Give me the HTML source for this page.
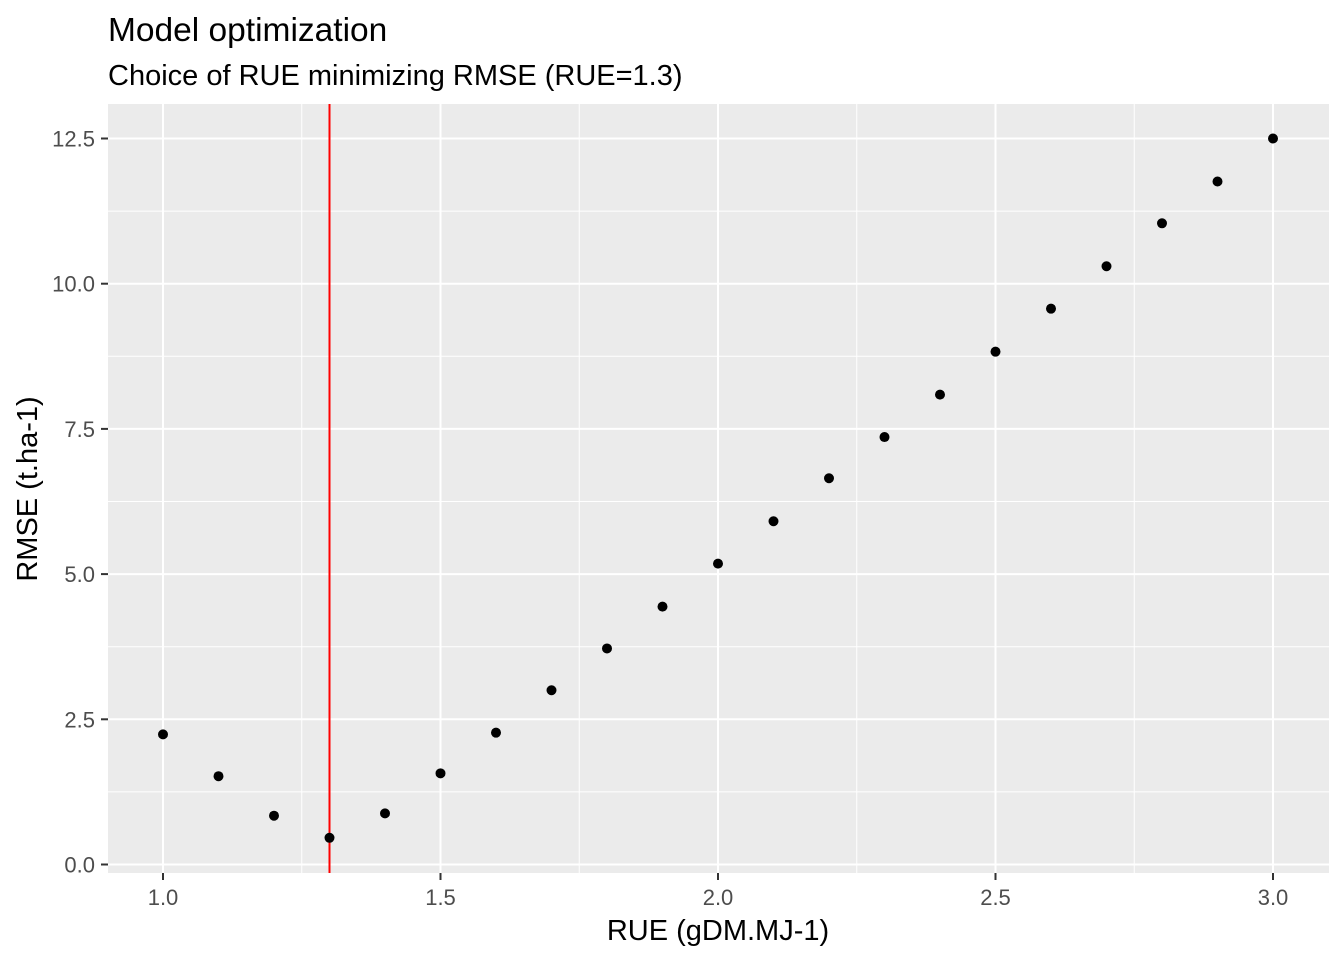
<!DOCTYPE html>
<html><head><meta charset="utf-8"><style>
body{margin:0;background:#fff;}
svg{display:block;font-family:"Liberation Sans",Arial,sans-serif;}
</style></head><body>
<svg id="chart" width="1344" height="960">
<text x="108" y="41" fill="#000" style="font-size:33.5px">Model optimization</text>
<text x="108" y="85" fill="#000" style="font-size:29px">Choice of RUE minimizing RMSE (RUE=1.3)</text>
<rect x="108" y="104" width="1221" height="769" fill="#ebebeb"/>
<g id="grid"></g>
<g id="axes"></g>
<g id="marks"></g>
<text x="718" y="940" text-anchor="middle" fill="#000" style="font-size:29px">RUE (gDM.MJ-1)</text>
<text transform="translate(37,489) rotate(-90)" text-anchor="middle" fill="#000" style="font-size:29px">RMSE (t.ha-1)</text>
</svg>
<script>
const rue = [1.0,1.1,1.2,1.3,1.4,1.5,1.6,1.7,1.8,1.9,2.0,2.1,2.2,2.3,2.4,2.5,2.6,2.7,2.8,2.9,3.0];
const rmse = [2.24,1.52,0.84,0.46,0.88,1.57,2.27,3.00,3.72,4.44,5.18,5.91,6.65,7.36,8.09,8.83,9.57,10.30,11.04,11.76,12.50];
const xTicks = [1.0,1.5,2.0,2.5,3.0];
const xTickLabels = ["1.0","1.5","2.0","2.5","3.0"];
const yTicks = [0,2.5,5,7.5,10,12.5];
const yTickLabels = ["0.0","2.5","5.0","7.5","10.0","12.5"];
const bestRue = 1.3;

const X = v => 163 + (v-1.0)*555;
const Y = v => 864.5 - v*58.08;
const NS='http://www.w3.org/2000/svg';
function mk(tag, attrs, parent){const e=document.createElementNS(NS,tag);for(const k in attrs)e.setAttribute(k,attrs[k]);document.getElementById(parent).appendChild(e);return e;}

for(let i=0;i<xTicks.length-1;i++){
  const m=(xTicks[i]+xTicks[i+1])/2;
  const e=mk('line',{x1:X(m),x2:X(m),y1:104,y2:873,stroke:'#fff','stroke-width':1},'grid');
  
  
}
for(let i=0;i<yTicks.length-1;i++){
  const m=(yTicks[i]+yTicks[i+1])/2;
  const e=mk('line',{x1:108,x2:1329,y1:Y(m),y2:Y(m),stroke:'#fff','stroke-width':1},'grid');
  
  
}
xTicks.forEach((t,i)=>{
  const g=mk('line',{x1:X(t),x2:X(t),y1:104,y2:873,stroke:'#fff','stroke-width':2},'grid');
  
  
  const tk=mk('line',{x1:X(t),x2:X(t),y1:873,y2:880,stroke:'#333','stroke-width':2},'axes');
  
  
  const l=mk('text',{x:X(t),y:905,'font-size':22,'text-anchor':'middle',fill:'#4d4d4d'},'axes');
  l.textContent=xTickLabels[i];
  
  
});
yTicks.forEach((t,i)=>{
  const g=mk('line',{x1:108,x2:1329,y1:Y(t),y2:Y(t),stroke:'#fff','stroke-width':2},'grid');
  
  
  const tk=mk('line',{x1:101,x2:108,y1:Y(t),y2:Y(t),stroke:'#333','stroke-width':2},'axes');
  
  
  const l=mk('text',{x:95,y:Y(t)+8,'font-size':22,'text-anchor':'end',fill:'#4d4d4d'},'axes');
  l.textContent=yTickLabels[i];
  
  
});
const vl=mk('line',{x1:X(bestRue),x2:X(bestRue),y1:104,y2:873,stroke:'#ff0000','stroke-width':2},'marks');


rue.forEach((r,i)=>{
  const c=mk('circle',{cx:X(r),cy:Y(rmse[i]),r:5,fill:'#000'},'marks');
  
  
});
</script>
</body></html>
